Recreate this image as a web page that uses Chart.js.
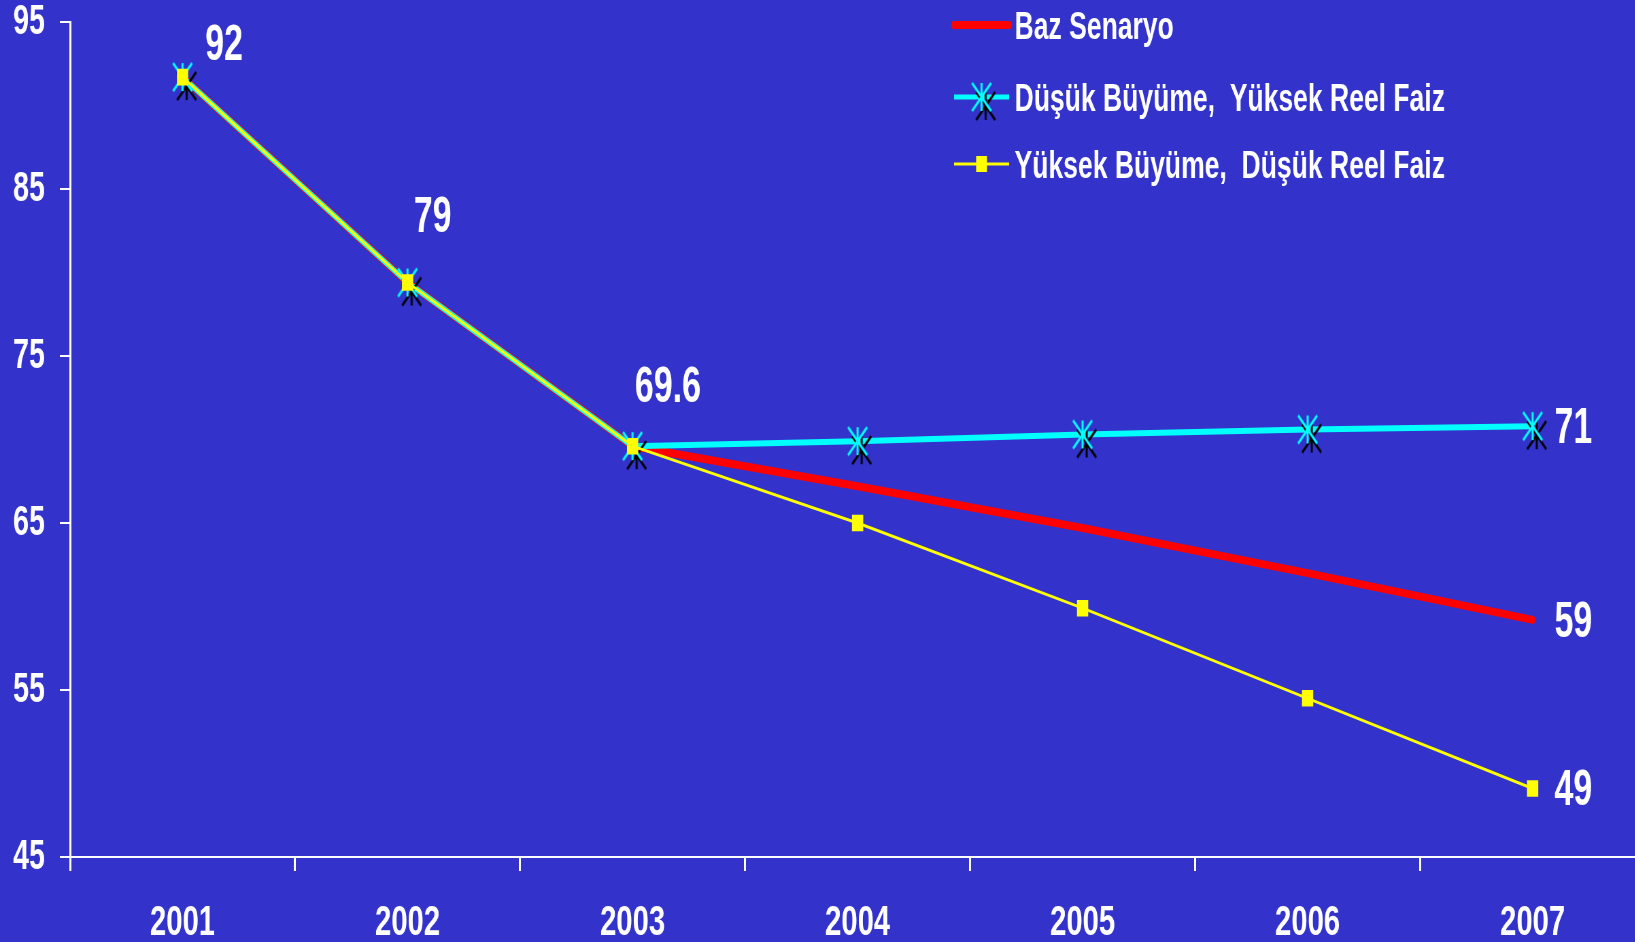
<!DOCTYPE html>
<html>
<head>
<meta charset="utf-8">
<script src="https://cdn.jsdelivr.net/npm/chart.js@4.4.1/dist/chart.umd.min.js"></script>
<style>
  html, body { margin: 0; padding: 0; width: 1635px; height: 942px; overflow: hidden; background: #3333cc; }
  /* the original picture is squeezed sideways, so draw wide and squeeze */
  #wrap { position: absolute; left: 0; top: 0; width: 2431px; height: 942px; transform: scaleX(0.68); transform-origin: 0 0; }
</style>
</head>
<body>
<div id="wrap"><canvas id="chart"></canvas></div>
<script>
const years = ["2001", "2002", "2003", "2004", "2005", "2006", "2007"];
const bazSenaryo = [91.7, 79.4, 69.6, 67.2, 64.7, 62.0, 59.2];
const dusukBuyume = [91.7, 79.4, 69.6, 69.9, 70.3, 70.6, 70.8];
const yuksekBuyume = [91.7, 79.4, 69.6, 65.0, 59.9, 54.5, 49.1];
const seriesNames = ["Baz Senaryo", "Düşük Büyüme,  Yüksek Reel Faiz", "Yüksek Büyüme,  Düşük Reel Faiz"];
const bazLabels = ["92", "79", "69.6", "", "", "", "59"];
const dusukLabels = ["", "", "", "", "", "", "71"];
const yuksekLabels = ["", "", "", "", "", "", "49"];
const yTicks = [45, 55, 65, 75, 85, 95];

const FONT = "'Liberation Sans', Arial, sans-serif";

function makeStar() {
  const c = document.createElement("canvas");
  c.width = 64;
  c.height = 64;
  const g = c.getContext("2d");
  const arms = (cx, cy, color) => {
    g.strokeStyle = color;
    g.lineWidth = 3;
    g.beginPath();
    g.moveTo(cx, cy - 14); g.lineTo(cx, cy + 14);
    g.moveTo(cx - 14, cy - 14); g.lineTo(cx + 14, cy + 14);
    g.moveTo(cx + 14, cy - 14); g.lineTo(cx - 14, cy + 14);
    g.stroke();
  };
  arms(38, 41, "#000000");
  arms(32, 32, "#00ffff");
  return c;
}
const starImg = makeStar();

// label offsets by point index (relative to the point)
const labelOffsets = [[61, -31], [37, -64], [52, -58], [0, 0], [0, 0], [0, 0], [60, 3]];

const valueLabels = {
  id: "valueLabels",
  afterDatasetsDraw(chart) {
    const ctx = chart.ctx;
    ctx.save();
    ctx.font = "bold 50px " + FONT;
    ctx.fillStyle = "#ffffff";
    ctx.textAlign = "center";
    ctx.textBaseline = "middle";
    chart.data.datasets.forEach((ds, i) => {
      const meta = chart.getDatasetMeta(i);
      ds.pointLabels.forEach((t, j) => {
        if (!t) return;
        const p = meta.data[j];
        ctx.fillText(t, p.x + labelOffsets[j][0], p.y + labelOffsets[j][1]);
      });
    });
    ctx.restore();
  },
};

const sideLegend = {
  id: "sideLegend",
  afterDraw(chart) {
    const ctx = chart.ctx;
    const rows = [25, 97, 164];
    const widths = [8, 5, 3];
    const x0 = 1403, x1 = 1484, tx = 1492;
    ctx.save();
    chart.data.datasets.forEach((ds, i) => {
      const y = rows[i];
      ctx.strokeStyle = ds.borderColor;
      ctx.lineWidth = widths[i];
      ctx.lineCap = i === 0 ? "round" : "butt";
      ctx.beginPath();
      ctx.moveTo(x0, y);
      ctx.lineTo(x1, y);
      ctx.stroke();
      const cx = (x0 + x1) / 2;
      if (i === 1) {
        ctx.drawImage(starImg, cx - 32, y - 32);
      } else if (i === 2) {
        ctx.fillStyle = "#ffff00";
        ctx.fillRect(cx - 8, y - 8, 16, 16);
      }
      ctx.fillStyle = "#ffffff";
      ctx.font = "bold 39px " + FONT;
      ctx.textAlign = "left";
      ctx.textBaseline = "alphabetic";
      ctx.fillText(ds.label, tx, y + 14);
    });
    ctx.restore();
  },
};

new Chart(document.getElementById("chart"), {
  type: "line",
  data: {
    labels: years,
    datasets: [
      {
        label: seriesNames[0],
        data: bazSenaryo,
        pointLabels: bazLabels,
        borderColor: "#ff0000",
        borderWidth: 8,
        borderCapStyle: "round",
        borderJoinStyle: "round",
        pointRadius: 0,
        order: 3,
      },
      {
        label: seriesNames[1],
        data: dusukBuyume,
        pointLabels: dusukLabels,
        borderColor: "#00ffff",
        borderWidth: 6,
        pointStyle: starImg,
        pointRadius: 4,
        order: 2,
      },
      {
        label: seriesNames[2],
        data: yuksekBuyume,
        pointLabels: yuksekLabels,
        borderColor: "#ffff00",
        borderWidth: 3,
        pointStyle: "rect",
        pointRadius: 11.7,
        pointBackgroundColor: "#ffff00",
        pointBorderWidth: 0,
        order: 1,
      },
    ],
  },
  options: {
    responsive: true,
    maintainAspectRatio: false,
    animation: false,
    layout: { padding: { top: 22, right: 2, left: 0, bottom: 0 } },
    plugins: { legend: { display: false }, tooltip: { enabled: false } },
    elements: { line: { tension: 0 } },
    scales: {
      x: {
        offset: true,
        afterFit: (s) => { s.height = 85; },
        grid: { offset: true, drawOnChartArea: false, drawTicks: true, tickLength: 14, color: "#ffffff", lineWidth: 3 },
        border: { display: true, color: "#ffffff", width: 2 },
        ticks: { color: "#ffffff", padding: 26, font: { family: FONT, size: 43, weight: "bold" } },
      },
      y: {
        min: 45,
        max: 95,
        afterFit: (s) => {
          s.width = 103;
          s.paddingTop = 0;
          s.paddingBottom = 0;
        },
        afterBuildTicks: (s) => { s.ticks = yTicks.map((v) => ({ value: v })); },
        grid: { drawOnChartArea: false, drawTicks: true, tickLength: 15, color: "#ffffff", lineWidth: 2 },
        border: { display: true, color: "#ffffff", width: 3 },
        ticks: { color: "#ffffff", padding: 22, font: { family: FONT, size: 42, weight: "bold", lineHeight: 1 } },
      },
    },
  },
  plugins: [valueLabels, sideLegend],
});
</script>
</body>
</html>
